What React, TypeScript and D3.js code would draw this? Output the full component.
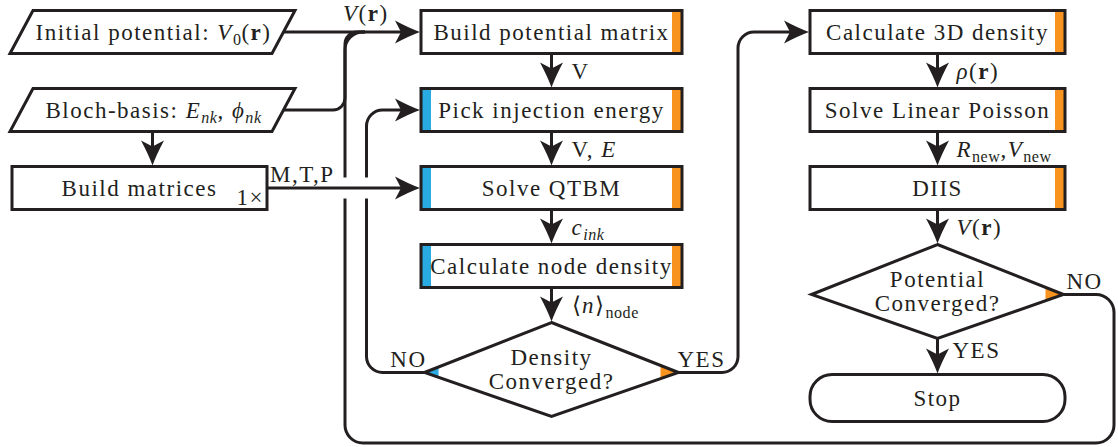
import React from 'react';
import * as d3 from 'd3';

type Seg = [string, string?];

// ---------- data ----------
const INPUT_LABELS: Seg[][] = [
  [["Initial potential: "], ["V", "i"], ["0", "sub"], ["("], ["r", "b"], [")"]],
  [["Bloch-basis: "], ["E", "i"], ["nk", "subi"], [", "], ["ϕ", "i"], ["nk", "subi"]],
  [["Build matrices"]],
];
const INPUT_SHAPES = ["data", "data", "process"];
const INPUT_NOTE: Seg[] = [["1×"]];

const SOLVER_STEPS = ["Build potential matrix", "Pick injection energy", "Solve QTBM", "Calculate node density"];
const SOLVER_BARS = [["orange"], ["blue", "orange"], ["blue", "orange"], ["blue", "orange"]];
const SOLVER_EDGE_LABELS: Seg[][] = [
  [["V"]],
  [["V, "], ["E", "i"]],
  [["c", "i"], ["ink", "subi"]],
  [["⟨"], ["n", "i"], ["⟩"], ["node", "sub"]],
];
const SOLVER_DECISION = ["Density", "Converged?"];

const POISSON_STEPS = ["Calculate 3D density", "Solve Linear Poisson", "DIIS"];
const POISSON_BARS = [["orange"], ["orange"], ["orange"]];
const POISSON_EDGE_LABELS: Seg[][] = [
  [["ρ", "i"], ["("], ["r", "b"], [")"]],
  [["R", "i"], ["new", "sub"], [","], ["V", "i"], ["new", "sub"]],
  [["V", "i"], ["("], ["r", "b"], [")"]],
];
const POISSON_DECISION = ["Potential", "Converged?"];
const STOP_LABEL = "Stop";

const V_LABEL: Seg[] = [["V", "i"], ["("], ["r", "b"], [")"]];
const MTP_LABEL: Seg[] = [["M,T,P"]];
const YES = "YES";
const NO = "NO";

// ---------- style ----------
const INK = "#231f20";
const COLORS: Record<string, string> = { orange: "#f7931e", blue: "#29abe2" };
const FONT = "Liberation Serif";
const FS = 23;
const LS = 1.5;
const SW = 3;

// ---------- layout scales ----------
const rowTop = d3.scaleLinear().domain([0, 1]).range([10.5, 88.5]);
const colX = d3.scaleOrdinal<string, number>().domain(["input", "solver", "poisson"]).range([152.5, 551.5, 937.5]);
const BOX_H = 43;

function Rich({ x, y, segs, anchor = "start", fs = FS }: { x: number; y: number; segs: Seg[]; anchor?: string; fs?: number }) {
  let cur = 0;
  return (
    <text x={x} y={y} textAnchor={anchor} fontFamily={FONT} fontSize={fs} letterSpacing={LS} fill={INK} style={{ whiteSpace: "pre" }}>
      {segs.map(([t, s], i) => {
        const sub = s === "sub" || s === "subi";
        const target = sub ? 5 : 0;
        const dy = target - cur;
        cur = target;
        return (
          <tspan
            key={i}
            dy={dy !== 0 ? dy : undefined}
            fontStyle={s === "i" || s === "subi" ? "italic" : undefined}
            fontWeight={s === "b" ? "bold" : undefined}
            fontSize={sub ? fs * 0.7 : undefined}
            letterSpacing={sub ? 0.5 : undefined}
          >
            {t}
          </tspan>
        );
      })}
    </text>
  );
}

function rounded(points: [number, number][], r: number) {
  const p = d3.path();
  p.moveTo(points[0][0], points[0][1]);
  for (let i = 1; i < points.length - 1; i++) {
    p.arcTo(points[i][0], points[i][1], points[i + 1][0], points[i + 1][1], r);
  }
  const last = points[points.length - 1];
  p.lineTo(last[0], last[1]);
  return p.toString();
}

function Arrow({ x, y, dir }: { x: number; y: number; dir: "right" | "down" }) {
  const rot = dir === "right" ? 0 : 90;
  return (
    <path
      d="M0,0 Q-11,-4 -25,-11.5 L-19,0 L-25,11.5 Q-11,4 0,0 Z"
      fill={INK}
      transform={`translate(${x},${y}) rotate(${rot})`}
    />
  );
}

function Box({ x0, x1, y0, label, bars }: { x0: number; x1: number; y0: number; label: string; bars: string[] }) {
  const y1 = y0 + BOX_H;
  const bw = 10;
  return (
    <g>
      <rect x={x0} y={y0} width={x1 - x0} height={BOX_H} fill="#fff" />
      {bars.map((b, i) => {
        const left = b === "blue";
        return <rect key={i} x={left ? x0 : x1 - bw} y={y0} width={bw} height={BOX_H} fill={COLORS[b]} />;
      })}
      <rect x={x0} y={y0} width={x1 - x0} height={BOX_H} fill="none" stroke={INK} strokeWidth={SW} />
      <Rich x={(x0 + x1) / 2} y={(y0 + y1) / 2 + 7.5} segs={[[label]]} anchor="middle" />
    </g>
  );
}

function Diamond({ cx, top, hw, lines, tips }: { cx: number; top: number; hw: number; lines: string[]; tips: { side: "left" | "right"; color: string; size: number }[] }) {
  const vy = top + 50;
  const bot = top + 94;
  const up = 50 / hw;
  const dn = 44 / hw;
  return (
    <g>
      <path d={`M${cx},${top} L${cx + hw},${vy} L${cx},${bot} L${cx - hw},${vy} Z`} fill="#fff" />
      {tips.map((tp, i) => {
        const s = tp.side === "right" ? 1 : -1;
        const vx = cx + s * hw;
        const t = tp.size;
        return (
          <path
            key={i}
            d={`M${vx},${vy} L${vx - s * t},${vy - t * up} L${vx - s * t},${vy + t * dn} Z`}
            fill={COLORS[tp.color]}
          />
        );
      })}
      <path d={`M${cx},${top} L${cx + hw},${vy} L${cx},${bot} L${cx - hw},${vy} Z`} fill="none" stroke={INK} strokeWidth={SW} strokeLinejoin="miter" />
      <Rich x={cx} y={top + 42} segs={[[lines[0]]]} anchor="middle" />
      <Rich x={cx} y={top + 66} segs={[[lines[1]]]} anchor="middle" />
    </g>
  );
}

export default function App() {
  // inputs
  const icx = colX("input");
  const skew = 11.5;
  const pw = 131;
  const inputs = INPUT_LABELS.map((lab, i) => {
    const y0 = rowTop(i);
    return { lab, y0, y1: y0 + BOX_H, shape: INPUT_SHAPES[i] };
  });
  const bmX0 = 12, bmX1 = 267;
  const paraRight = icx + pw;

  // solver column
  const scx = colX("solver");
  const sHW = 130.5;
  const solver = SOLVER_STEPS.map((s, i) => ({ label: s, y0: rowTop(i), bars: SOLVER_BARS[i] }));
  const dTop = rowTop(SOLVER_STEPS.length);
  const dHW = 127;
  const dVy = dTop + 50;

  // poisson column
  const pcx = colX("poisson");
  const pHW = 127.5;
  const poisson = POISSON_STEPS.map((s, i) => ({ label: s, y0: rowTop(i), bars: POISSON_BARS[i] }));
  const pTop = rowTop(POISSON_STEPS.length);
  const ppHW = 126;
  const pVy = pTop + 50;
  const pBot = pTop + 93;
  const stopTop = pBot + 37;
  const stopH = 47;

  const row0y = rowTop(0) + BOX_H / 2;
  const row1y = rowTop(1) + BOX_H / 2;
  const row2y = rowTop(2) + BOX_H / 2;
  const loopX = 345;
  const noX = 366.5;
  const yesX = 738;
  const rightX = 1114;
  const bottomY = 443;
  const tipGap = 1;
  const sX0 = scx - sHW;
  const pX0 = pcx - pHW;

  const lines: string[] = [];
  lines.push(rounded([[paraRight, row0y], [sX0 - 12, row0y]], 0));
  lines.push(rounded([[paraRight, row1y], [loopX, row1y], [loopX, row0y], [loopX + 20, row0y]], 12));
  lines.push(rounded([[icx, inputs[1].y1], [icx, inputs[2].y0 - 12]], 0));
  lines.push(rounded([[scx - dHW, dVy], [noX, dVy], [noX, row1y], [sX0 - 12, row1y]], 16));
  lines.push(rounded([[scx + dHW, dVy], [yesX, dVy], [yesX, row0y], [pX0 - 12, row0y]], 16));
  lines.push(rounded([[pcx + ppHW, pVy], [rightX, pVy], [rightX, bottomY], [loopX, bottomY], [loopX, row0y], [loopX + 20, row0y]], 18));
  solver.forEach((b, i) => {
    const next = i < solver.length - 1 ? solver[i + 1].y0 : dTop;
    lines.push(`M${scx},${b.y0 + BOX_H}V${next - 12}`);
  });
  poisson.forEach((b, i) => {
    const next = i < poisson.length - 1 ? poisson[i + 1].y0 : pTop;
    lines.push(`M${pcx},${b.y0 + BOX_H}V${next - 12}`);
  });
  lines.push(`M${pcx},${pBot}V${stopTop - 12}`);

  const arrows: { x: number; y: number; dir: "right" | "down" }[] = [
    { x: sX0 - tipGap, y: row0y, dir: "right" },
    { x: sX0 - tipGap, y: row1y, dir: "right" },
    { x: sX0 - tipGap, y: row2y, dir: "right" },
    { x: icx, y: inputs[2].y0 - tipGap, dir: "down" },
    { x: pX0 - tipGap, y: row0y, dir: "right" },
    ...solver.map((b, i) => ({ x: scx, y: (i < solver.length - 1 ? solver[i + 1].y0 : dTop) - tipGap, dir: "down" as const })),
    ...poisson.map((b, i) => ({ x: pcx, y: (i < poisson.length - 1 ? poisson[i + 1].y0 : pTop) - tipGap, dir: "down" as const })),
    { x: pcx, y: stopTop - tipGap, dir: "down" },
  ];

  return (
    <svg width={1118} height={447} style={{ position: "absolute", left: 0, top: 0, background: "#fff" }}>
      <rect width={1118} height={447} fill="#fff" />
      {lines.map((d, i) => (
        <path key={i} d={d} fill="none" stroke={INK} strokeWidth={SW} />
      ))}
      <path d={`M${loopX - 10},${row2y}H${noX + 10}`} stroke="#fff" strokeWidth={21} />
      <path d={`M${bmX1},${row2y}H${sX0 - 12}`} stroke={INK} strokeWidth={SW} />
      {arrows.map((a, i) => (
        <Arrow key={i} {...a} />
      ))}

      {inputs.map((n, i) =>
        n.shape === "data" ? (
          <g key={i}>
            <path
              d={`M${icx - pw + skew},${n.y0} L${icx + pw + skew},${n.y0} L${icx + pw - skew},${n.y1} L${icx - pw - skew},${n.y1} Z`}
              fill="#fff"
              stroke={INK}
              strokeWidth={SW}
            />
            <Rich x={icx + 1} y={n.y0 + BOX_H / 2 + 7.5} segs={n.lab} anchor="middle" />
          </g>
        ) : (
          <g key={i}>
            <rect x={bmX0} y={n.y0} width={bmX1 - bmX0} height={BOX_H} fill="#fff" stroke={INK} strokeWidth={SW} />
            <Rich x={(bmX0 + bmX1) / 2} y={n.y0 + BOX_H / 2 + 7.5} segs={n.lab} anchor="middle" />
            <Rich x={bmX1 - 3} y={n.y1 - 5} segs={INPUT_NOTE} anchor="end" />
          </g>
        )
      )}

      {solver.map((b, i) => (
        <Box key={i} x0={scx - sHW} x1={scx + sHW} y0={b.y0} label={b.label} bars={b.bars} />
      ))}
      <Diamond cx={scx} top={dTop} hw={dHW} lines={SOLVER_DECISION} tips={[{ side: "left", color: "blue", size: 14 }, { side: "right", color: "orange", size: 18 }]} />
      {SOLVER_EDGE_LABELS.map((l, i) => {
        const yb = solver[i].y0 + BOX_H;
        const next = i < solver.length - 1 ? solver[i + 1].y0 : dTop;
        return <Rich key={i} x={scx + 20} y={(yb + next) / 2 + 8} segs={l} />;
      })}

      {poisson.map((b, i) => (
        <Box key={i} x0={pcx - pHW} x1={pcx + pHW} y0={b.y0} label={b.label} bars={b.bars} />
      ))}
      <Diamond cx={pcx} top={pTop} hw={ppHW} lines={POISSON_DECISION} tips={[{ side: "right", color: "orange", size: 18 }]} />
      {POISSON_EDGE_LABELS.map((l, i) => {
        const yb = poisson[i].y0 + BOX_H;
        const next = i < poisson.length - 1 ? poisson[i + 1].y0 : pTop;
        return <Rich key={i} x={pcx + 19} y={(yb + next) / 2 + 8} segs={l} />;
      })}
      <rect x={pcx - pHW} y={stopTop} width={pHW * 2} height={stopH} rx={22} ry={22} fill="#fff" stroke={INK} strokeWidth={SW} />
      <Rich x={pcx} y={stopTop + stopH / 2 + 7.5} segs={[[STOP_LABEL]]} anchor="middle" />

      <Rich x={343} y={21} segs={V_LABEL} />
      <Rich x={270} y={182} segs={MTP_LABEL} />
      <Rich x={scx - dHW + 2} y={dVy - 6} segs={[[NO]]} anchor="end" />
      <Rich x={scx + dHW - 1} y={dVy - 6} segs={[[YES]]} />
      <Rich x={pcx + ppHW + 3} y={pVy - 6} segs={[[NO]]} />
      <Rich x={pcx + 15} y={pBot + 20} segs={[[YES]]} />
    </svg>
  );
}
